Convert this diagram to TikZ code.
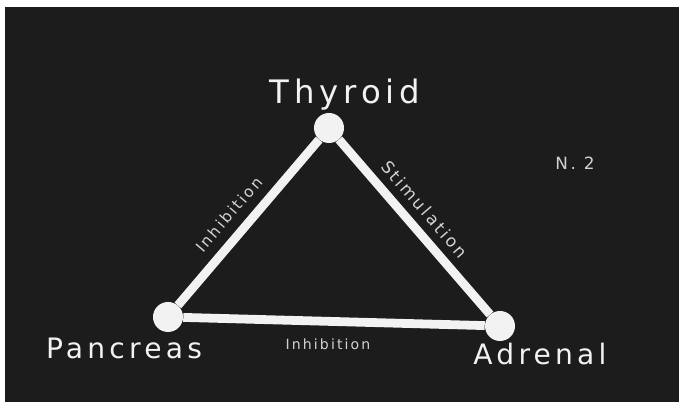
\documentclass[tikz,border=0pt]{standalone}
\usepackage{fontspec}
\usepackage{xcolor}
\usepackage{tikz}
\usetikzlibrary{positioning}
\newfontfamily\chalk[LetterSpace=15]{DejaVu Sans}
\definecolor{board}{HTML}{1C1C1C}
\definecolor{chalkwhite}{HTML}{F2F2F2}

\begin{document}
\begin{tikzpicture}[
    x=0.025cm, y=-0.025cm,
    gland/.style={circle, fill=chalkwhite, minimum size=0.75cm, inner sep=0pt},
    link/.style={draw=chalkwhite, line width=0.22cm},
    glandlbl/.style={text=chalkwhite, inner sep=0pt,
                     font=\chalk\fontsize{20}{24}\selectfont},
    effect/.style={text=chalkwhite!85!board, inner sep=1pt,
                   font=\chalk\fontsize{11}{13}\selectfont}
]

% Board
\fill[white] (0,0) rectangle (679,405);
\fill[board] (5,7) rectangle (679,402);
\useasboundingbox (0,0) rectangle (679,405);

% Glands
\node[gland] (thy) at (329,128) {};
\node[gland] (pan) at (168,317) {};
\node[gland] (adr) at (500,326) {};

% Links with their effects
\draw[link] (pan) -- node[effect, sloped, above=6pt, pos=0.47] (inhPT) {Inhibition} (thy);
\draw[link] (thy) -- node[effect, sloped, above=5pt, pos=0.47,
    font=\chalk\fontsize{12}{14}\selectfont] (stimTA) {Stimulation} (adr);
\draw[link] (pan) -- node[effect, below=8pt, pos=0.48,
    font=\chalk\fontsize{10}{12}\selectfont] (inhPA) {Inhibition} (adr);

% Gland names
\node[glandlbl, font=\chalk\fontsize{23}{26}\selectfont] (thyLbl) at (345,95) {Thyroid};
\node[glandlbl] (panLbl) at (124,348) {Pancreas};
\node[glandlbl] (adrLbl) at (540,354) {Adrenal};

% Plate number
\node[effect, font=\chalk\fontsize{12}{14}\selectfont] (plate) at (575,163) {N.~2};

\end{tikzpicture}
\end{document}
